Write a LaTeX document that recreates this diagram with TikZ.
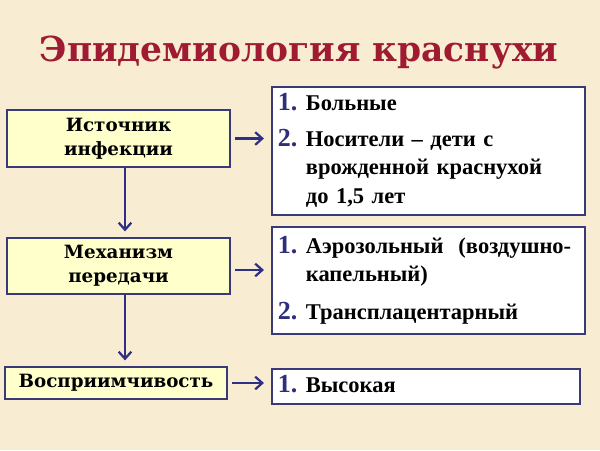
\documentclass[tikz,border=0pt]{standalone}
\usepackage{fontspec}
\setmainfont{Liberation Serif}
\newfontfamily\slabfont{DejaVu Serif}
\usetikzlibrary{arrows.meta}

\definecolor{parch}{HTML}{F8EDD2}
\definecolor{pale}{HTML}{FFFFCC}
\definecolor{frame}{HTML}{3A3A78}
\definecolor{arrc}{HTML}{2E3085}
\definecolor{numc}{HTML}{2E2E7A}
\definecolor{titlec}{HTML}{9E1B32}

\newcommand{\itemno}[1]{{\color{numc}\fontsize{18.5}{20}\selectfont #1}}

\begin{document}
\begin{tikzpicture}[x=0.025cm, y=-0.025cm,
    lbox/.style={draw=frame, fill=pale, line width=1.4pt, align=center,
        font=\slabfont\bfseries\fontsize{13}{17}\selectfont, inner sep=0pt},
    rbox/.style={draw=frame, fill=white, line width=1.4pt, align=left,
        font=\bfseries\fontsize{16}{20}\selectfont, inner xsep=0.15cm, inner ysep=0pt},
    arr/.style={-{Straight Barb[length=5pt, width=9pt]}, draw=arrc, line width=1.6pt}]

    \fill [parch] (0,0) rectangle (600,450);

    \node [anchor=base] (title) at (299, 61) {\slabfont\bfseries\fontsize{24.5}{30}\selectfont\color{titlec}Эпидемиология краснухи};

    % left column
    \node [lbox, minimum width=5.575cm, minimum height=1.425cm] (ist) at (118.5, 138.5) {Источник\\инфекции};
    \node [lbox, minimum width=5.575cm, minimum height=1.4cm] (mech) at (118.5, 266) {Механизм\\передачи};
    \node [lbox, minimum width=5.55cm, minimum height=0.8cm] (vospr) at (116, 383) {Восприимчивость};

    % right column
    \node [rbox, text width=7.525cm, minimum height=3.2cm] (r1) at (428.5, 151) {%
        \begin{tabular}{@{}l@{\hspace{6pt}}l@{}}
        \itemno{1.} & Больные\\[6pt]
        \itemno{2.} & Носители – дети с\\
                    & врожденной краснухой\\
                    & до 1,5 лет
        \end{tabular}};
    \node [rbox, text width=7.525cm, minimum height=2.675cm] (r2) at (428.5, 280.5) {%
        \begin{tabular}{@{}l@{\hspace{6pt}}l@{}}
        \itemno{1.} & Аэрозольный\ \ (воздушно-\\
                    & капельный)\\[7pt]
        \itemno{2.} & Трансплацентарный
        \end{tabular}};
    \node [rbox, text width=7.4cm, minimum height=0.875cm] (r3) at (426, 386.5) {%
        \begin{tabular}{@{}l@{\hspace{6pt}}l@{}}
        \itemno{1.} & Высокая
        \end{tabular}};

    \draw [arr, shorten >=4pt] (ist.south -| 125,0) -- (mech.north -| 125,0);
    \draw [arr, shorten >=4pt] (mech.south -| 125,0) -- (vospr.north -| 125,0);

    \draw [arr, shorten <=3pt, shorten >=5pt] (ist.east) -- (ist.east -| r1.west);
    \draw [arr, shorten <=3pt, shorten >=5pt] (mech.east |- 0,270) -- (r2.west |- 0,270);
    \draw [arr, shorten <=3pt, shorten >=5pt] (vospr.east) -- (vospr.east -| r3.west);

\end{tikzpicture}
\end{document}
